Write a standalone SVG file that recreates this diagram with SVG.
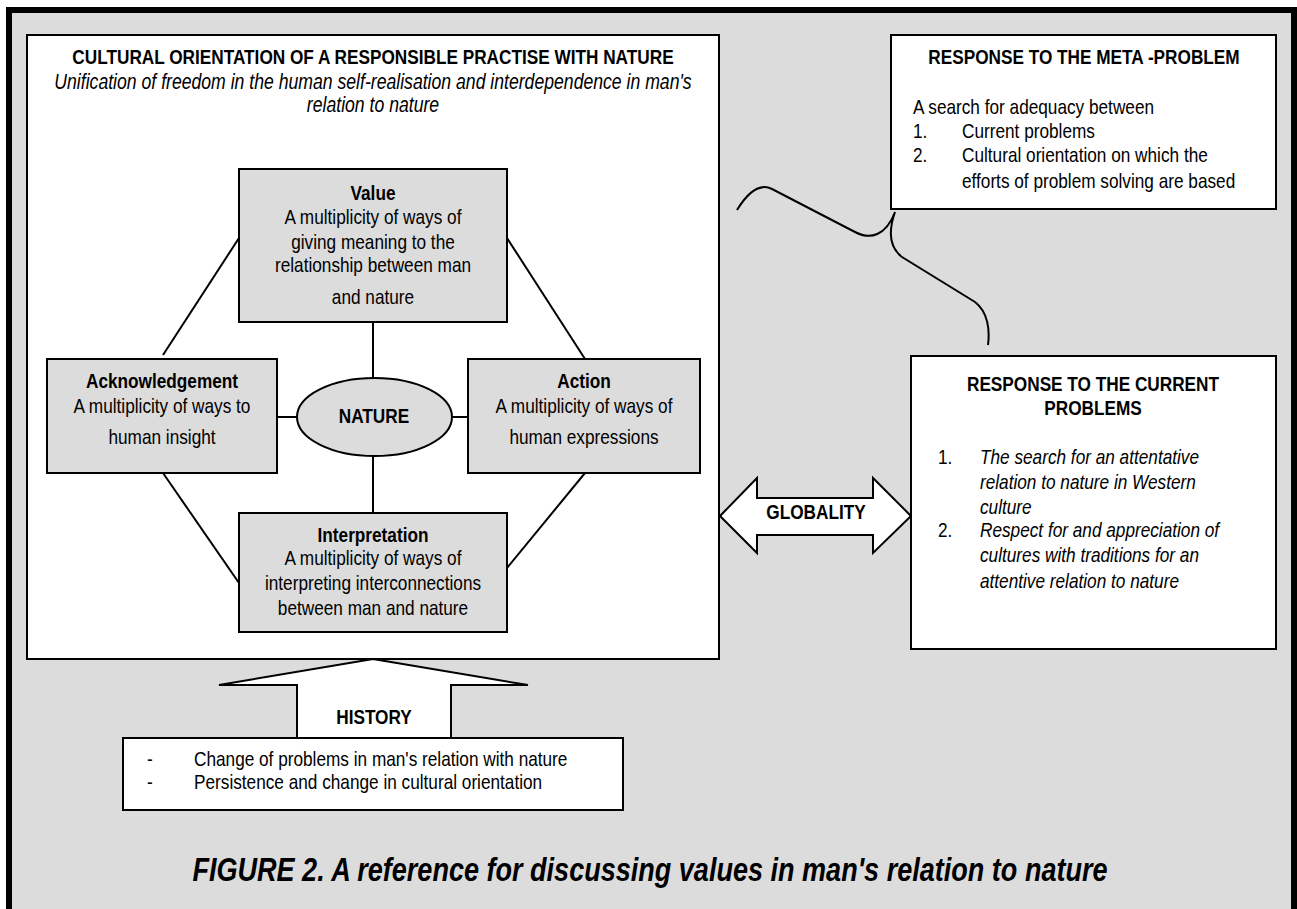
<svg xmlns="http://www.w3.org/2000/svg" width="1297" height="909" viewBox="0 0 1297 909">
<style>
text{font-family:"Liberation Sans Narrow","Liberation Sans",Arial,sans-serif;font-size:21px;fill:#000}
.b{font-weight:bold}
.i{font-style:italic}
.c{text-anchor:middle}
.box{stroke:#000;stroke-width:2}
.g{fill:#dcdcdc}
.w{fill:#fff}
.ln{stroke:#000;stroke-width:2;fill:none}
</style>
<rect x="9" y="10" width="1285" height="912" fill="#dcdcdc" stroke="#000" stroke-width="6"/>
<g id="main">
<rect class="box w" x="27" y="35" width="692" height="624"/>
<g transform="scale(0.82,1)">
<text class="b c" x="454.88" y="64">CULTURAL ORIENTATION OF A RESPONSIBLE PRACTISE WITH NATURE</text>
<text class="i c" x="454.88" y="89" style="font-size:21.5px">Unification of freedom in the human self-realisation and interdependence in man's</text>
<text class="i c" x="454.88" y="112" style="font-size:21.5px">relation to nature</text>
</g>
</g>
<g id="connectors">
<line class="ln" x1="239" y1="238" x2="163" y2="355"/>
<line class="ln" x1="507" y1="238" x2="585" y2="359"/>
<line class="ln" x1="163" y1="473" x2="239" y2="583"/>
<line class="ln" x1="585" y1="473" x2="507" y2="568"/>
<line class="ln" x1="373" y1="322" x2="373" y2="378"/>
<line class="ln" x1="373" y1="456" x2="373" y2="513"/>
<line class="ln" x1="277" y1="417" x2="297" y2="417"/>
<line class="ln" x1="452" y1="417" x2="468" y2="417"/>
<path class="ln" d="M737,210 C748,192 760,183 772,189 L855,232 C870,240 886,236 895,212 C888,232 890,248 902,257 L975,302 C988,312 990,330 988,345"/>
</g>
<g id="value">
<rect class="box g" x="239" y="169" width="268" height="153"/>
<g transform="scale(0.82,1)">
<text class="b c" x="454.88" y="200">Value</text>
<text class="c" x="454.88" y="224">A multiplicity of ways of</text>
<text class="c" x="454.88" y="249">giving meaning to the</text>
<text class="c" x="454.88" y="272">relationship between man</text>
<text class="c" x="454.88" y="304">and nature</text>
</g>
</g>
<g id="acknowledgement">
<rect class="box g" x="47" y="359" width="230" height="114"/>
<g transform="scale(0.82,1)">
<text class="b c" x="197.56" y="388">Acknowledgement</text>
<text class="c" x="197.56" y="413">A multiplicity of ways to</text>
<text class="c" x="197.56" y="444">human insight</text>
</g>
</g>
<g id="nature">
<ellipse class="box g" cx="374.5" cy="417" rx="77.5" ry="39"/>
<g transform="scale(0.82,1)">
<text class="b c" x="456.1" y="423">NATURE</text>
</g>
</g>
<g id="action">
<rect class="box g" x="468" y="359" width="232" height="114"/>
<g transform="scale(0.82,1)">
<text class="b c" x="712.2" y="388">Action</text>
<text class="c" x="712.2" y="413">A multiplicity of ways of</text>
<text class="c" x="712.2" y="444">human expressions</text>
</g>
</g>
<g id="interpretation">
<rect class="box g" x="239" y="513" width="268" height="119"/>
<g transform="scale(0.82,1)">
<text class="b c" x="454.88" y="542">Interpretation</text>
<text class="c" x="454.88" y="565">A multiplicity of ways of</text>
<text class="c" x="454.88" y="590">interpreting interconnections</text>
<text class="c" x="454.88" y="615">between man and nature</text>
</g>
</g>
<g id="history">
<polygon class="box w" points="373,659 528,685 451,685 451,738 297,738 297,685 219,685"/>
<rect class="box w" x="123" y="738" width="500" height="72"/>
<g transform="scale(0.82,1)">
<text class="b c" x="456.1" y="724">HISTORY</text>
<text x="179.27" y="766">-</text>
<text x="236.59" y="766">Change of problems in man's relation with nature</text>
<text x="179.27" y="789">-</text>
<text x="236.59" y="789">Persistence and change in cultural orientation</text>
</g>
</g>
<g id="globality">
<polygon class="box w" points="720,516 757,478 757,498 873,498 873,478 911,516 873,553 873,535 757,535 757,553"/>
<g transform="scale(0.82,1)">
<text class="b c" x="995.12" y="519">GLOBALITY</text>
</g>
</g>
<g id="meta">
<rect class="box w" x="891" y="35" width="385" height="174"/>
<g transform="scale(0.82,1)">
<text class="b c" x="1321.95" y="64">RESPONSE TO THE META -PROBLEM</text>
<text x="1113.41" y="114">A search for adequacy between</text>
<text x="1113.41" y="138">1.</text>
<text x="1173.17" y="138">Current problems</text>
<text x="1113.41" y="162">2.</text>
<text x="1173.17" y="162">Cultural orientation on which the</text>
<text x="1173.17" y="188">efforts of problem solving are based</text>
</g>
</g>
<g id="current">
<rect class="box w" x="911" y="356" width="365" height="293"/>
<g transform="scale(0.82,1)">
<text class="b c" x="1332.93" y="391">RESPONSE TO THE CURRENT</text>
<text class="b c" x="1332.93" y="415">PROBLEMS</text>
<text x="1143.9" y="464">1.</text>
<text class="i" x="1195.12" y="464">The search for an attentative</text>
<text class="i" x="1195.12" y="489">relation to nature in Western</text>
<text class="i" x="1195.12" y="514">culture</text>
<text x="1143.9" y="537">2.</text>
<text class="i" x="1195.12" y="537">Respect for and appreciation of</text>
<text class="i" x="1195.12" y="562">cultures with traditions for an</text>
<text class="i" x="1195.12" y="588">attentive relation to nature</text>
</g>
</g>
<g id="caption" transform="scale(0.82,1)">
<text class="b i c" x="792.68" y="881" style="font-size:33px">FIGURE 2. A reference for discussing values in man's relation to nature</text>
</g>
</svg>
